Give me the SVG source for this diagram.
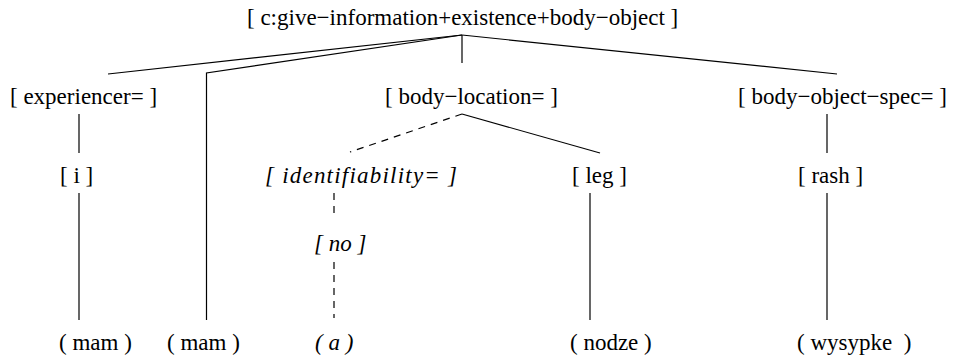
<svg xmlns="http://www.w3.org/2000/svg" width="956" height="360" viewBox="0 0 956 360">
<style>
text{font-family:'Liberation Serif','Times New Roman',serif;font-size:23px;fill:#000;white-space:pre}
.it{font-style:italic}
.ln{stroke:#000;stroke-width:1.2;fill:none}
.ds{stroke:#000;stroke-width:1.2;fill:none;stroke-dasharray:7 6}
</style>
<rect width="956" height="360" fill="#fff"/>
<g id="connectors">
<path class="ln" d="M462,35 L108,74"/>
<path class="ln" d="M462,35 L206.5,73 L206.5,320"/>
<path class="ln" d="M462,35 L462,63"/>
<path class="ln" d="M462,35 L837,74"/>
<path class="ln" d="M79,114 L79,153"/>
<path class="ln" d="M79,193 L79,320"/>
<path class="ds" d="M462,114 L350,152"/>
<path class="ln" d="M462,114 L600,153"/>
<path class="ds" d="M334,193 L334,218"/>
<path class="ds" d="M334,262 L334,318"/>
<path class="ln" d="M590,193 L590,320"/>
<path class="ln" d="M827,114 L827,153"/>
<path class="ln" d="M827,193 L827,320"/>
</g>
<g id="root"><text x="247" y="25">[ c:give−information+existence+body−object ]</text></g>
<g id="experiencer"><text x="10" y="104">[ experiencer= ]</text></g>
<g id="body-location"><text x="385" y="104">[ body−location= ]</text></g>
<g id="body-object-spec"><text x="738" y="104">[ body−object−spec= ]</text></g>
<g id="i"><text x="60" y="183">[ i ]</text></g>
<g id="identifiability"><text class="it" x="265" y="183" textLength="192">[ identifiability= ]</text></g>
<g id="leg"><text x="572" y="183">[ leg ]</text></g>
<g id="rash"><text x="798" y="183">[ rash ]</text></g>
<g id="no"><text class="it" x="314" y="251">[ no ]</text></g>
<g id="mam1"><text x="59" y="350">( mam )</text></g>
<g id="mam2"><text x="167" y="350">( mam )</text></g>
<g id="a"><text class="it" x="315" y="350">( a )</text></g>
<g id="nodze"><text x="570" y="350">( nodze )</text></g>
<g id="wysypke"><text x="797" y="350">( wysypke  )</text></g>
</svg>
